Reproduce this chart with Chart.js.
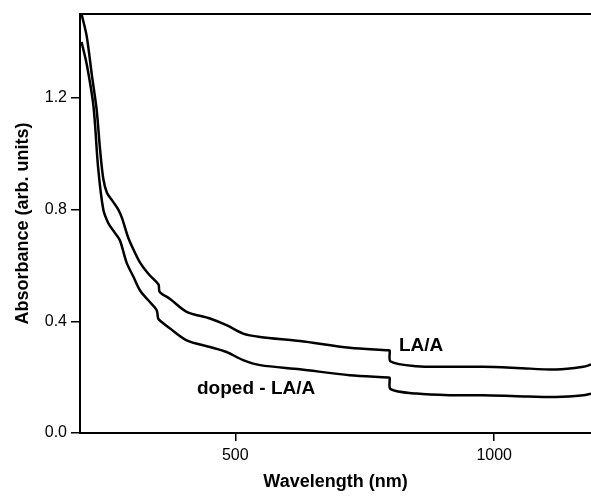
<!DOCTYPE html>
<html>
<head>
<meta charset="utf-8">
<script src="https://cdn.jsdelivr.net/npm/chart.js@4.4.1/dist/chart.umd.min.js"></script>
<style>
  html, body { margin: 0; padding: 0; background: #fff; }
  #wrap { width: 591px; height: 497px; position: relative; }
</style>
</head>
<body>
<div id="wrap"><canvas id="absChart"></canvas></div>
<script>
// Wavelength (nm) for each curve
let laaWave = [203, 213, 223, 232, 239, 245, 252, 263, 274, 281, 293, 305, 316, 332, 348, 352, 354, 374, 406, 451, 483, 515, 548, 625, 721, 795, 798, 800, 850, 914, 978, 1043, 1120, 1172, 1187];
let laaAbs = [1.50, 1.42, 1.28, 1.16, 1.01, 0.91, 0.86, 0.83, 0.80, 0.77, 0.70, 0.65, 0.61, 0.57, 0.54, 0.53, 0.505, 0.48, 0.434, 0.41, 0.386, 0.356, 0.344, 0.329, 0.305, 0.296, 0.295, 0.256, 0.239, 0.237, 0.237, 0.233, 0.227, 0.237, 0.245];

let dopedWave = [203, 213, 226, 235, 245, 255, 266, 277, 290, 303, 316, 332, 348, 351, 356, 374, 406, 451, 483, 515, 548, 625, 721, 795, 798, 800, 850, 914, 978, 1043, 1120, 1172, 1187];
let dopedAbs = [1.40, 1.32, 1.17, 0.95, 0.80, 0.75, 0.72, 0.69, 0.61, 0.56, 0.51, 0.475, 0.44, 0.41, 0.40, 0.374, 0.332, 0.308, 0.29, 0.261, 0.243, 0.228, 0.207, 0.199, 0.198, 0.157, 0.141, 0.135, 0.135, 0.132, 0.129, 0.135, 0.141];

// Tick labels
let xTicks = [500, 1000];
let yTicks = [0.0, 0.4, 0.8, 1.2];

// Curve labels [text, wavelength, absorbance]
let curveLabels = [
    ['LA/A', 816, 0.313],
    ['doped - LA/A', 426, 0.157]
];

const toPoints = (xs, ys) => xs.map((x, i) => ({ x: x, y: ys[i] }));

const data = {
    datasets: [{
        label: 'LA/A',
        data: toPoints(laaWave, laaAbs),
        borderColor: '#000',
        borderWidth: 2.5,
        pointRadius: 0,
        tension: 0.3,
    }, {
        label: 'doped - LA/A',
        data: toPoints(dopedWave, dopedAbs),
        borderColor: '#000',
        borderWidth: 2.5,
        pointRadius: 0,
        tension: 0.3,
    }]
};

//Draws the top frame line and the curve labels
const extras = {
    id: 'extras',
    afterDraw(chart) {
        const c = chart.ctx;
        const a = chart.chartArea;
        const xs = chart.scales.x;
        const ys = chart.scales.y;
        c.save();
        c.strokeStyle = '#000';
        c.lineWidth = 2;
        c.beginPath();
        c.moveTo(a.left - 1, a.top);
        c.lineTo(a.right, a.top);
        c.stroke();

        c.fillStyle = '#000';
        c.font = 'bold 19px "Liberation Sans", Arial, sans-serif';
        c.textAlign = 'left';
        c.textBaseline = 'middle';
        curveLabels.forEach(l => {
            c.fillText(l[0], xs.getPixelForValue(l[1]), ys.getPixelForValue(l[2]));
        });
        c.restore();
    }
};

const tickFont = { family: '"Liberation Sans", Arial, sans-serif', size: 16 };
const titleFont = { family: '"Liberation Sans", Arial, sans-serif', size: 18, weight: 'bold' };

const config = {
    type: 'line',
    data: data,
    options: {
        responsive: true,
        maintainAspectRatio: false,
        animation: false,
        layout: { padding: { left: 0, top: 14, right: 0, bottom: 0 } },
        plugins: { legend: { display: false }, tooltip: { enabled: false } },
        scales: {
            x: {
                type: 'linear',
                min: 200,
                max: 1187,
                afterBuildTicks: s => { s.ticks = xTicks.map(v => ({ value: v })); },
                afterFit: s => { s.height = 64; },
                grid: { drawOnChartArea: false, drawTicks: true, tickLength: 8, color: '#000', lineWidth: 1.5 },
                border: { display: true, color: '#000', width: 2 },
                ticks: { color: '#000', font: tickFont, padding: 5, maxRotation: 0, callback: v => String(v) },
                title: { display: true, text: 'Wavelength (nm)', color: '#000', font: titleFont, padding: { top: 0, bottom: 4 } }
            },
            y: {
                type: 'linear',
                min: 0,
                max: 1.5,
                afterBuildTicks: s => { s.ticks = yTicks.map(v => ({ value: v })); },
                afterFit: s => { s.width = 80; },
                grid: { drawOnChartArea: false, drawTicks: true, tickLength: 9, color: '#000', lineWidth: 1.5 },
                border: { display: true, color: '#000', width: 2 },
                ticks: { color: '#000', font: tickFont, padding: 4, callback: v => v.toFixed(1) },
                title: { display: true, text: 'Absorbance (arb. units)', color: '#000', font: titleFont, padding: { top: 12, bottom: 0 } }
            }
        }
    },
    plugins: [extras]
};

let absChart = new Chart(document.getElementById('absChart'), config);
</script>
</body>
</html>
